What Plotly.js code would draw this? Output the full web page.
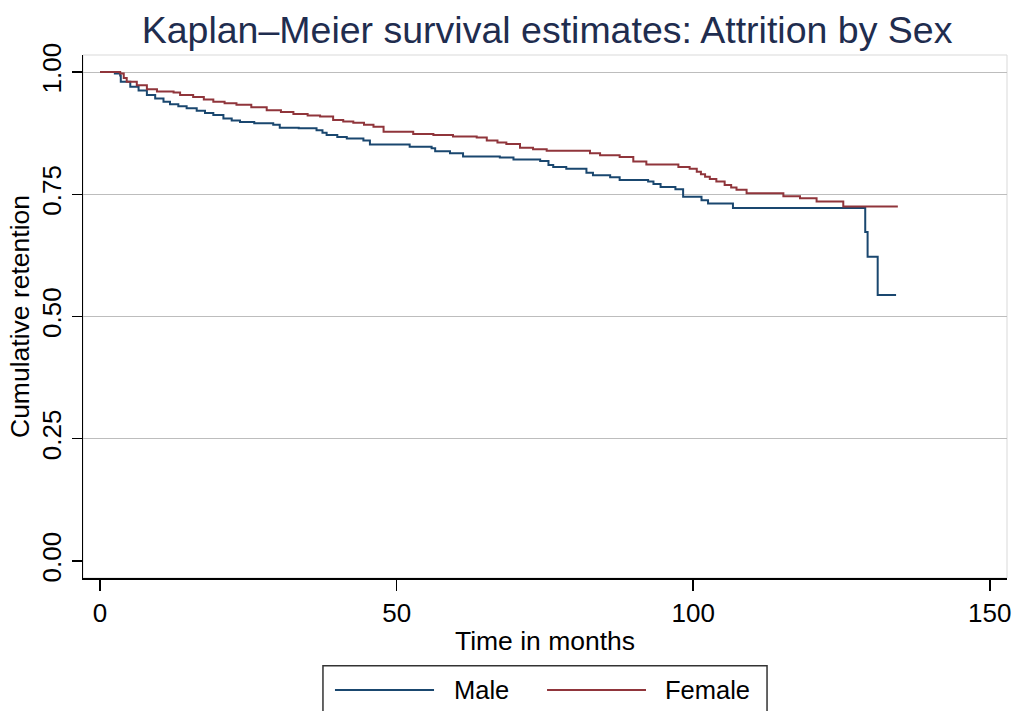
<!DOCTYPE html>
<html>
<head>
<meta charset="utf-8">
<script src="https://cdn.plot.ly/plotly-3.0.1.min.js"></script>
<style>html,body{margin:0;padding:0;background:#fff;}#chart{width:1015px;height:711px;}</style>
</head>
<body>
<div id="chart"></div>
<script>
// ---- Data ----
const maleTime = [0, 2.5, 3.4, 3.5, 5.1, 6.5, 7.9, 9.3, 10.7, 11.8, 13.2, 14.6, 16.3, 17.7, 19.1, 20.8, 22.2, 23.6, 26.0, 29.2, 30.3, 33.5, 36.5, 37.5, 38.2, 40.0, 41.6, 44.4, 45.5, 52.2, 55.9, 56.5, 59.0, 61.2, 67.4, 69.7, 74.2, 75.6, 76.4, 78.6, 82.0, 83.1, 86.0, 87.6, 92.4, 93.3, 94.5, 97.0, 98.3, 101.4, 102.5, 106.7, 129.0, 129.4, 131.1, 134.2];
const maleSurv = [1.000, 0.997, 0.993, 0.980, 0.970, 0.962, 0.953, 0.946, 0.939, 0.934, 0.930, 0.926, 0.921, 0.916, 0.912, 0.905, 0.901, 0.898, 0.895, 0.892, 0.886, 0.885, 0.881, 0.876, 0.871, 0.867, 0.864, 0.860, 0.852, 0.847, 0.844, 0.838, 0.834, 0.827, 0.825, 0.821, 0.818, 0.810, 0.806, 0.802, 0.794, 0.789, 0.785, 0.779, 0.776, 0.771, 0.765, 0.760, 0.745, 0.738, 0.731, 0.722, 0.673, 0.622, 0.544, 0.544];

const femaleTime = [0, 3.4, 4.0, 4.5, 6.2, 7.9, 9.6, 12.4, 13.5, 15.7, 17.5, 19.1, 21.0, 23.0, 25.5, 28.1, 30.5, 32.6, 35.0, 37.1, 39.3, 41.0, 42.7, 44.5, 46.1, 47.8, 52.8, 56.2, 59.5, 63.5, 65.2, 67.0, 68.5, 70.8, 73.0, 75.3, 82.6, 84.3, 87.6, 89.9, 92.1, 97.5, 99.4, 100.6, 101.3, 102.0, 102.8, 103.9, 105.3, 106.4, 107.3, 109.0, 115.2, 118.0, 120.8, 125.3, 134.5];
const femaleSurv = [1.000, 0.997, 0.988, 0.980, 0.973, 0.965, 0.960, 0.958, 0.953, 0.949, 0.944, 0.939, 0.936, 0.933, 0.928, 0.922, 0.918, 0.914, 0.911, 0.909, 0.902, 0.899, 0.896, 0.892, 0.888, 0.878, 0.873, 0.871, 0.868, 0.866, 0.860, 0.856, 0.853, 0.845, 0.842, 0.839, 0.834, 0.830, 0.826, 0.817, 0.811, 0.806, 0.802, 0.796, 0.791, 0.786, 0.781, 0.776, 0.769, 0.764, 0.759, 0.752, 0.746, 0.742, 0.735, 0.725, 0.725];

const seriesNames = ["Male", "Female"];
const seriesColors = ["#1a476f", "#90353b"];
const xTicks = [0, 50, 100, 150];
const yTicks = [0, 0.25, 0.5, 0.75, 1];
const yTickText = ["0.00", "0.25", "0.50", "0.75", "1.00"];
const yGrid = [0.25, 0.5, 0.75, 1];

const FONT = "Liberation Sans, Arial, sans-serif";

const traces = [
  {x: maleTime, y: maleSurv, name: seriesNames[0], type: "scatter", mode: "lines",
   line: {shape: "hv", color: seriesColors[0], width: 2}, showlegend: false},
  {x: femaleTime, y: femaleSurv, name: seriesNames[1], type: "scatter", mode: "lines",
   line: {shape: "hv", color: seriesColors[1], width: 2}, showlegend: false},
  // invisible trace to host grid axis
  {x: [0], y: [0], xaxis: "x", yaxis: "y2", mode: "markers", marker: {opacity: 0}, hoverinfo: "skip", showlegend: false}
];

const yRange = [-0.0348, 1.0348];
const xRange = [-2.87, 152.9];

// custom Stata-style legend (paper coordinates)
const legY = -0.214;
const shapes = [
  {type: "rect", xref: "paper", yref: "paper", x0: 0, x1: 1, y0: 0, y1: 1,
   line: {color: "#d9d9d9", width: 1}, layer: "below"},
  {type: "rect", xref: "paper", yref: "paper", x0: 0.2597, x1: 0.7403, y0: -0.168, y1: -0.30,
   line: {color: "#333333", width: 1.5}},
  {type: "line", xref: "paper", yref: "paper", x0: 0.2727, x1: 0.3799, y0: legY, y1: legY,
   line: {color: seriesColors[0], width: 2}},
  {type: "line", xref: "paper", yref: "paper", x0: 0.5022, x1: 0.6093, y0: legY, y1: legY,
   line: {color: seriesColors[1], width: 2}}
];
const annotations = [
  {xref: "paper", yref: "paper", x: 0.3994, y: legY, text: seriesNames[0], showarrow: false,
   xanchor: "left", yanchor: "middle", font: {family: FONT, size: 25.5, color: "#000"}},
  {xref: "paper", yref: "paper", x: 0.6277, y: legY, text: seriesNames[1], showarrow: false,
   xanchor: "left", yanchor: "middle", font: {family: FONT, size: 25.5, color: "#000"}}
];

const layout = {
  width: 1015, height: 711,
  margin: {l: 83, r: 8, t: 55, b: 133, pad: 0},
  paper_bgcolor: "#ffffff", plot_bgcolor: "#ffffff",
  font: {family: FONT, size: 26, color: "#000"},
  title: {text: "Kaplan\u2013Meier survival estimates: Attrition by Sex",
          font: {family: FONT, size: 37.5, color: "#1f2d4f"},
          x: 0.539, xanchor: "center", y: 0.958, yanchor: "middle"},
  xaxis: {range: xRange, tickvals: xTicks, showgrid: false, zeroline: false,
          showline: true, linecolor: "#000", linewidth: 1.5,
          ticks: "outside", ticklen: 11, tickwidth: 1.5, tickcolor: "#000",
          tickfont: {family: FONT, size: 26, color: "#000"},
          title: {text: "Time in months", font: {family: FONT, size: 26.5, color: "#000"}, standoff: 4},
          automargin: false},
  yaxis: {range: yRange, tickvals: yTicks, ticktext: yTickText, showgrid: false, zeroline: false,
          showline: true, linecolor: "#000", linewidth: 1.5,
          ticks: "outside", ticklen: 10, tickwidth: 1.5, tickcolor: "#000", tickangle: -90,
          tickfont: {family: FONT, size: 26, color: "#000"},
          title: {text: "Cumulative retention", font: {family: FONT, size: 26.5, color: "#000"}, standoff: 0},
          automargin: false},
  yaxis2: {range: yRange, overlaying: "y", tickvals: yGrid, showticklabels: false, ticks: "",
           showgrid: true, gridcolor: "#bdbdbd", gridwidth: 1, zeroline: false, showline: false,
           layer: "below traces"},
  shapes: shapes,
  annotations: annotations,
  showlegend: false
};

Plotly.newPlot("chart", traces, layout, {displayModeBar: false, staticPlot: true});
</script>
</body>
</html>
